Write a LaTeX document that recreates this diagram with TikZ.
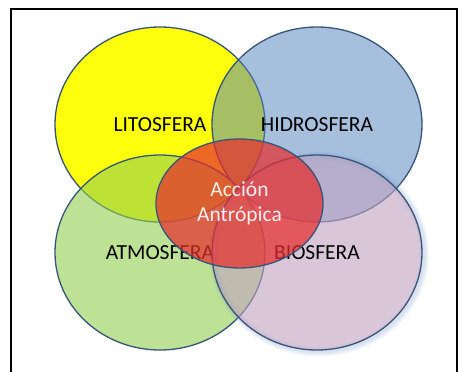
\documentclass[tikz,border=0pt]{standalone}
\usepackage{fontspec}
\setmainfont{Carlito}
\usetikzlibrary{shapes.geometric}
\definecolor{rim}{HTML}{375479}
\definecolor{lito}{HTML}{FFFF00}
\definecolor{hidro}{HTML}{4F81BD}
\definecolor{atmos}{HTML}{92D050}
\definecolor{bio}{HTML}{C1A3C1}
\definecolor{accion}{HTML}{E62E2E}
\definecolor{halo}{HTML}{6F94C8}
\tikzset{
  sphere/.style={ellipse, draw=rim, line width=1.3pt, minimum width=210pt,
    minimum height=195pt, inner sep=0pt, text=black, text opacity=1,
    font=\fontsize{21.5}{25}\selectfont},
  core/.style={ellipse, draw=rim, line width=1.3pt, minimum width=167pt,
    minimum height=129pt, inner sep=0pt, fill=accion, fill opacity=0.72,
    text opacity=0.9, text=white, align=center,
    font=\fontsize{21.5}{25}\selectfont},
  frame/.style={draw=black, line width=2pt}
}
\begin{document}
\begin{tikzpicture}[x=1pt, y=-1pt]
  \useasboundingbox (0,0) rectangle (459,372);
  \fill[white] (0,0) rectangle (459,372);
  % outer frame, open at the bottom
  \draw[frame] (11,380) -- (11,9) -- (457,9) -- (457,380);
  % the four spheres
  \node[sphere, fill=lito, fill opacity=0.95] (lit) at (160,124.5) {LITOSFERA};
  \node[sphere, fill=hidro, fill opacity=0.5] (hid) at (317,124.5) {HIDROSFERA};
  \node[sphere, fill=atmos, fill opacity=0.6] (atm) at (160,252.5) {ATMOSFERA};
  % soft glow round the biosphere
  \foreach \w in {2,4,6,8,10}
    \draw[halo, opacity=0.06, line width=\w pt] (319,254) ellipse (105pt and 97.5pt);
  \node[sphere, fill=bio, fill opacity=0.6] (bio) at (317,252.5) {BIOSFERA};
  % human action in the middle
  \node[core] (acc) at (239.5,203.5) {Acción\\Antrópica};
\end{tikzpicture}
\end{document}
